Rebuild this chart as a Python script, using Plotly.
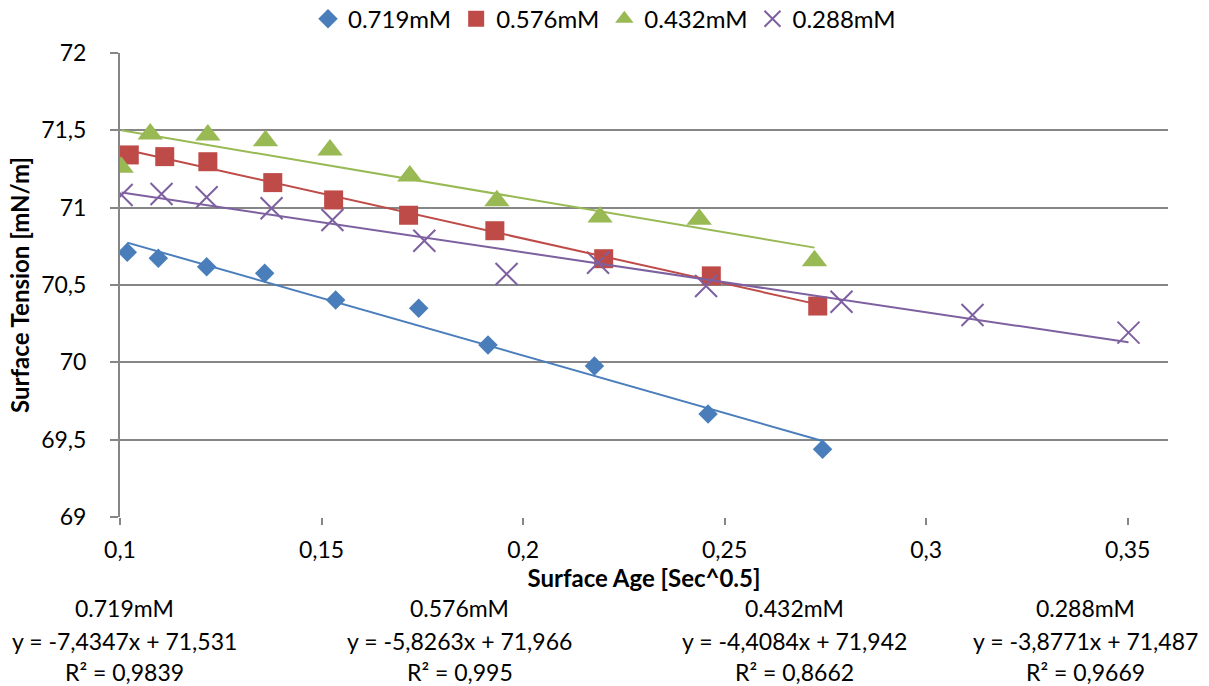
import plotly.graph_objects as go

# Surface age (sqrt of seconds) and measured surface tension for each concentration
labels = ["0.719mM", "0.576mM", "0.432mM", "0.288mM"]

x_0719 = [0.1018, 0.1095, 0.1215, 0.1359, 0.1535, 0.1741, 0.1913, 0.2177, 0.2459, 0.2743]
y_0719 = [70.711, 70.673, 70.618, 70.576, 70.403, 70.349, 70.112, 69.976, 69.666, 69.438]

x_0576 = [0.1023, 0.1111, 0.1218, 0.1379, 0.1530, 0.1716, 0.1930, 0.2200, 0.2467, 0.2731]
y_0576 = [71.341, 71.330, 71.297, 71.162, 71.050, 70.951, 70.851, 70.670, 70.559, 70.364]

x_0432 = [0.1003, 0.1075, 0.1218, 0.1361, 0.1521, 0.1719, 0.1935, 0.2191, 0.2437, 0.2723]
y_0432 = [71.261, 71.476, 71.470, 71.433, 71.373, 71.205, 71.045, 70.939, 70.925, 70.657]

x_0288 = [0.1004, 0.1103, 0.1215, 0.1376, 0.1527, 0.1755, 0.1959, 0.2186, 0.2454,
          0.2790, 0.3115, 0.3502]
y_0288 = [71.082, 71.088, 71.067, 70.996, 70.920, 70.786, 70.571, 70.644, 70.494,
          70.392, 70.306, 70.192]

# Linear trendline coefficients and goodness of fit
slopes = [-7.4347, -5.8263, -4.4084, -3.8771]
intercepts = [71.531, 71.966, 71.942, 71.487]
r_squared = ["0,9839", "0,995", "0,8662", "0,9669"]

x_ticks = [0.1, 0.15, 0.2, 0.25, 0.3, 0.35]
y_ticks = [69, 69.5, 70, 70.5, 71, 71.5, 72]

colors = ["#4A7EBB", "#BE4B48", "#98B954", "#7D60A0"]
symbols = ["diamond", "square", "triangle-up", "x-thin"]
sizes = [15, 19, 22, 22]

xs = [x_0719, x_0576, x_0432, x_0288]
ys = [y_0719, y_0576, y_0432, y_0288]

FONT = "Lato"
TXT = 23

fig = go.Figure()

for i in range(4):
    marker = dict(symbol=symbols[i], size=sizes[i], color=colors[i])
    if symbols[i] == "x-thin":
        marker["line"] = dict(color=colors[i], width=2)
    else:
        marker["line"] = dict(width=0)
    fig.add_trace(go.Scatter(
        x=xs[i], y=ys[i], mode="markers", name=labels[i], marker=marker,
    ))

# Trendlines drawn from the fitted equations over each series' x span
for i in range(4):
    x0, x1 = min(xs[i]), max(xs[i])
    fig.add_trace(go.Scatter(
        x=[x0, x1],
        y=[slopes[i] * x0 + intercepts[i], slopes[i] * x1 + intercepts[i]],
        mode="lines", line=dict(color=colors[i], width=2),
        showlegend=False, hoverinfo="skip",
    ))


def fmt(v):
    return f"{v}".replace(".", ",")


# Equation blocks underneath the x axis
block_x = [0.004, 0.3244, 0.644, 0.921]
row_y = [-0.196, -0.267, -0.334]
for i in range(4):
    sign = "+" if intercepts[i] >= 0 else "-"
    lines = [
        labels[i],
        f"y = {fmt(slopes[i])}x {sign} {fmt(abs(intercepts[i]))}",
        f"R² = {r_squared[i]}",
    ]
    for txt, yy in zip(lines, row_y):
        fig.add_annotation(
            x=block_x[i], y=yy, xref="paper", yref="paper",
            text=txt, showarrow=False, xanchor="center", yanchor="middle",
            font=dict(family=FONT, size=TXT, color="#000000"),
        )

fig.update_layout(
    width=1209, height=686,
    paper_bgcolor="white", plot_bgcolor="white",
    margin=dict(l=120, r=41, t=53, b=169, autoexpand=False),
    separators=",.",
    font=dict(family=FONT, size=TXT, color="#000000"),
    showlegend=True,
    legend=dict(
        orientation="h", xref="container", x=0.5, xanchor="center",
        yref="container", y=0.972, yanchor="middle",
        font=dict(family=FONT, size=24), itemsizing="trace",
        itemwidth=30, tracegroupgap=0,
    ),
    xaxis=dict(
        range=[0.1, 0.36], tickvals=x_ticks,
        showgrid=False, zeroline=False,
        showline=False, ticks="outside", ticklen=7, tickcolor="#868686",
        tickwidth=1.5, ticklabelstandoff=5,
        title=dict(text="<b>Surface Age [Sec^0.5]</b>", standoff=0,
                   font=dict(family=FONT, size=24)),
    ),
    yaxis=dict(
        range=[69, 72], tickvals=y_ticks,
        showgrid=True, gridcolor="#868686", gridwidth=2,
        zeroline=False, showline=True, linecolor="#868686", linewidth=2,
        ticks="outside", ticklen=8, tickcolor="#868686", tickwidth=2,
        ticklabelstandoff=19,
        title=dict(text="<b>Surface Tension [mN/m]</b>", standoff=5,
                   font=dict(family=FONT, size=24)),
    ),
)

fig.write_html("out.html")
